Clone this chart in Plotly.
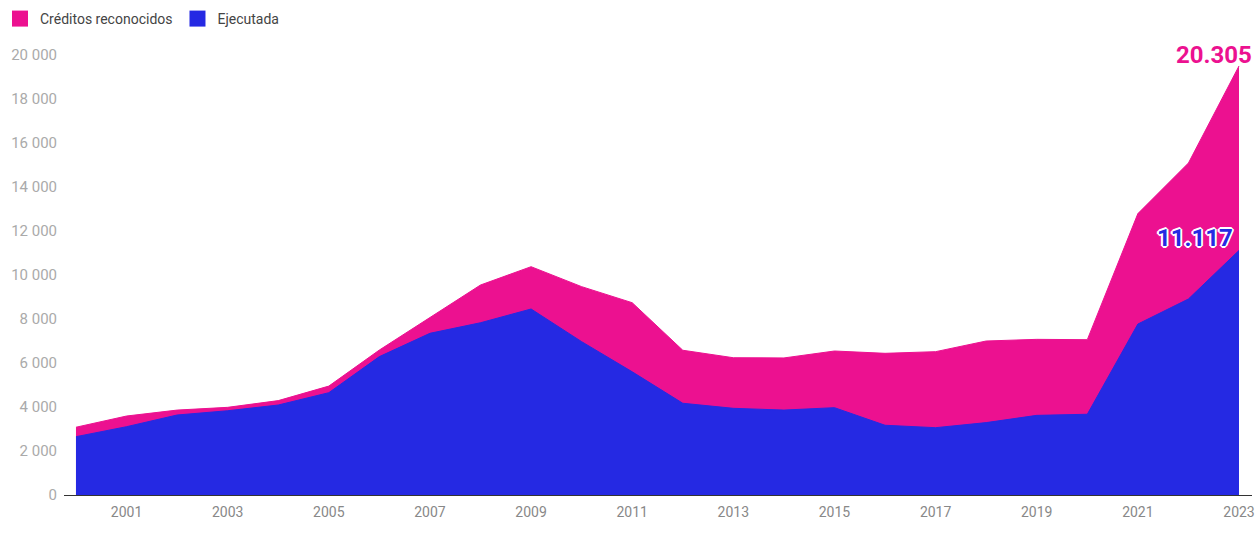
import plotly.graph_objects as go

years = list(range(2000, 2024))
creditos = [3080, 3590, 3860, 3985, 4290, 4950, 6590, 8076, 9545, 10377, 9470, 8740,
            6580, 6240, 6230, 6545, 6440, 6515, 7000, 7075, 7060, 12790, 15090, 19500]
ejecutada = [2650, 3105, 3636, 3830, 4090, 4650, 6290, 7350, 7830, 8455, 6970, 5600,
             4170, 3940, 3860, 3970, 3170, 3060, 3290, 3620, 3670, 7770, 8910, 11117]
x_ticks = list(range(2001, 2024, 2))
y_ticks = list(range(0, 20001, 2000))
label_creditos = "20.305"
label_ejecutada = "11.117"

PINK = "#EC1190"
BLUE = "#2529E3"

fig = go.Figure()
fig.add_trace(go.Scatter(x=years, y=creditos, mode="lines", fill="tozeroy",
                         line=dict(color=PINK, width=1), fillcolor=PINK,
                         showlegend=False, hoverinfo="skip"))
fig.add_trace(go.Scatter(x=years, y=ejecutada, mode="lines", fill="tozeroy",
                         line=dict(color=BLUE, width=1), fillcolor=BLUE,
                         showlegend=False, hoverinfo="skip"))
# legend entries
fig.add_trace(go.Scatter(x=[None], y=[None], mode="markers", name="Créditos reconocidos",
                         marker=dict(symbol="square", size=17, color=PINK)))
fig.add_trace(go.Scatter(x=[None], y=[None], mode="markers", name="Ejecutada",
                         marker=dict(symbol="square", size=17, color=BLUE)))

fig.add_annotation(x=years[-1], y=creditos[-1], text=label_creditos, showarrow=False,
                   xanchor="right", yanchor="middle", xshift=15, yshift=11,
                   font=dict(family="Roboto", size=24, color=PINK, weight="bold"))
fig.add_annotation(x=years[-1], y=ejecutada[-1], text=label_ejecutada, showarrow=False,
                   xanchor="right", yanchor="middle", xshift=-4, yshift=12,
                   font=dict(family="Roboto", size=24, color=BLUE, weight="bold",
                             shadow="2px 0 0 white, -2px 0 0 white, 0 2px 0 white, 0 -2px 0 white, 1px 1px 0 white, -1px -1px 0 white, 1px -1px 0 white, -1px 1px 0 white"))

fig.update_layout(
    width=1260, height=542,
    margin=dict(l=64, r=8, t=45, b=47, autoexpand=False),
    paper_bgcolor="white", plot_bgcolor="white",
    font=dict(family="Roboto", size=14, color="#333333"),
    separators=", ",
    legend=dict(orientation="h", xref="container", yref="container",
                x=0, y=0.9945, xanchor="left", yanchor="top",
                font=dict(size=14, color="#444444"), itemwidth=30,
                traceorder="normal"),
    xaxis=dict(range=[1999.763, 2023.257], tickvals=x_ticks, showgrid=False,
               zeroline=False, showline=True, linecolor="#333333", linewidth=1,
               ticks="", ticklabelstandoff=4, automargin=False,
               tickfont=dict(size=14, color="#888888")),
    yaxis=dict(range=[0, 20454], tickvals=y_ticks, tickformat=",d", showgrid=False,
               zeroline=False, showline=False, ticks="", ticklabelstandoff=6,
               automargin=False, tickfont=dict(size=15, color="#aaaaaa")),
)

fig.write_html("out.html")
